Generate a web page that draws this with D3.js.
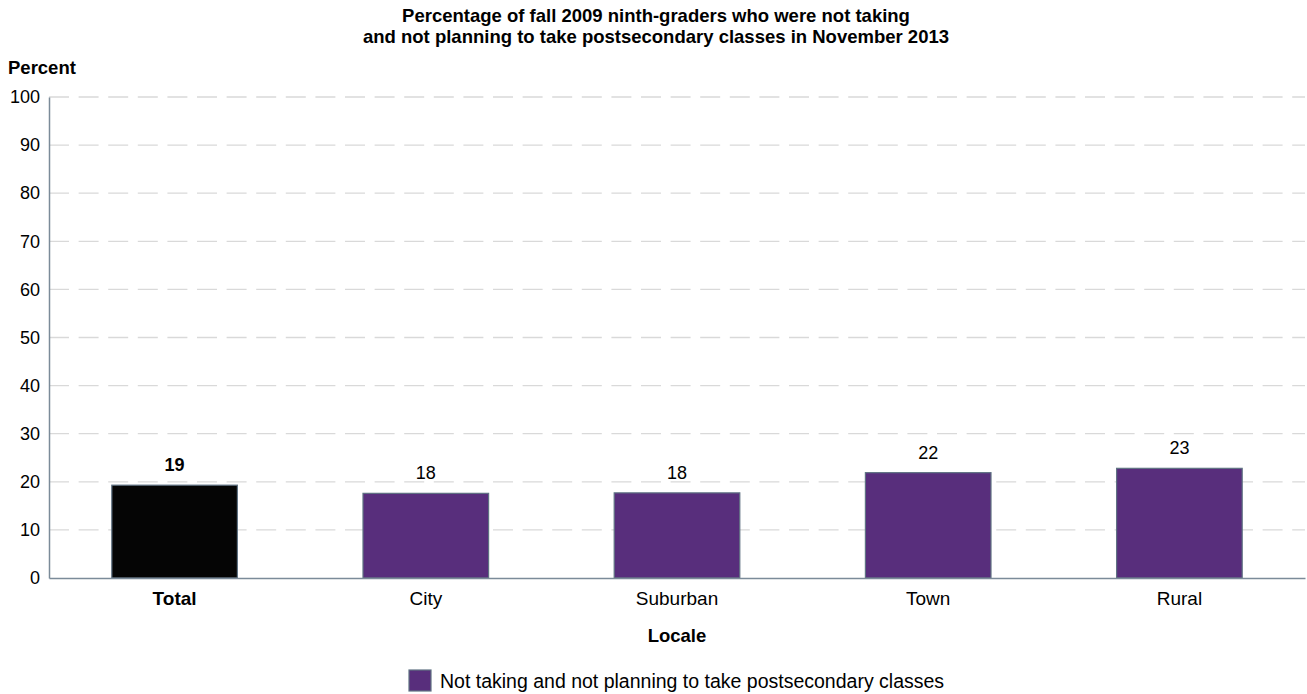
<!DOCTYPE html>
<html>
<head>
<meta charset="utf-8">
<script src="https://cdn.jsdelivr.net/npm/d3@7"></script>
<style>
body { margin: 0; background: #fff; }
text { font-family: "Liberation Sans", Arial, sans-serif; fill: #000; }
</style>
</head>
<body>
<div id="chart"></div>
<script>
// data
var locales = ["Total", "City", "Suburban", "Town", "Rural"];
var values = [19.3, 17.6, 17.7, 21.9, 22.8];
var labels = ["19", "18", "18", "22", "23"];
var yTicks = [0, 10, 20, 30, 40, 50, 60, 70, 80, 90, 100];

var W = 1307, H = 694;
var margin = {top: 97, right: 2, bottom: 116, left: 49};
var width = W - margin.left - margin.right,
    height = H - margin.top - margin.bottom;

var svg = d3.select("#chart").append("svg")
    .attr("width", W).attr("height", H);

var g = svg.append("g")
    .attr("transform", "translate(" + margin.left + "," + margin.top + ")");

var x = d3.scaleBand().domain(locales).range([0, width])
    .paddingInner(0.5).paddingOuter(0.25);
var y = d3.scaleLinear().domain([0, 100]).range([height, 0]);

// grid lines
g.selectAll(".grid").data(yTicks.slice(1))
  .enter().append("line")
    .attr("x1", 0).attr("x2", width)
    .attr("y1", function(d) { return y(d); })
    .attr("y2", function(d) { return y(d); })
    .style("stroke", "#d9d9d9")
    .style("stroke-width", 1.3)
    .style("stroke-dasharray", "20,9.6");

// y axis
var yAxis = g.append("g")
    .call(d3.axisLeft(y).tickValues(yTicks).tickSize(0).tickPadding(9));
yAxis.select(".domain").style("stroke", "#7b8b99").style("stroke-width", 1.5);
yAxis.selectAll("text").style("font-size", "18px");

// bars
g.selectAll(".bar").data(values)
  .enter().append("rect")
    .attr("x", function(d, i) { return x(locales[i]); })
    .attr("y", function(d) { return y(d); })
    .attr("width", x.bandwidth())
    .attr("height", function(d) { return height - y(d); })
    .style("fill", function(d, i) { return i == 0 ? "#050505" : "#582e7c"; })
    .style("stroke", "#5f7283")
    .style("stroke-width", 1.2);

// value labels
g.selectAll(".lbl").data(values)
  .enter().append("text")
    .attr("x", function(d, i) { return x(locales[i]) + x.bandwidth() / 2; })
    .attr("y", function(d) { return y(d) - 14; })
    .attr("text-anchor", "middle")
    .style("font-size", "18px")
    .style("font-weight", function(d, i) { return i == 0 ? "bold" : "normal"; })
    .text(function(d, i) { return labels[i]; });

// x axis
var xAxis = g.append("g")
    .attr("transform", "translate(0," + height + ")")
    .call(d3.axisBottom(x).tickSize(0).tickPadding(14));
xAxis.select(".domain").style("stroke", "#7b8b99").style("stroke-width", 1.5);
xAxis.selectAll("text")
    .style("font-size", "19px")
    .style("font-weight", function(d) { return d == "Total" ? "bold" : "normal"; });

// titles
svg.append("text")
   .attr("x", 656).attr("y", 22)
   .attr("text-anchor", "middle")
   .style("font-size", "18.5px").style("font-weight", "bold")
   .text("Percentage of fall 2009 ninth-graders who were not taking");
svg.append("text")
   .attr("x", 656).attr("y", 43)
   .attr("text-anchor", "middle")
   .style("font-size", "18.5px").style("font-weight", "bold")
   .text("and not planning to take postsecondary classes in November 2013");

svg.append("text")
   .attr("x", 8).attr("y", 74)
   .style("font-size", "18.5px").style("font-weight", "bold")
   .text("Percent");

svg.append("text")
   .attr("x", 677).attr("y", 642)
   .attr("text-anchor", "middle")
   .style("font-size", "18.5px").style("font-weight", "bold")
   .text("Locale");

// legend
svg.append("rect")
   .attr("x", 409).attr("y", 670).attr("width", 22).attr("height", 21)
   .style("fill", "#582e7c").style("stroke", "#5f7283").style("stroke-width", 1.2);
svg.append("text")
   .attr("x", 440).attr("y", 688)
   .style("font-size", "19.5px")
   .text("Not taking and not planning to take postsecondary classes");
</script>
</body>
</html>
